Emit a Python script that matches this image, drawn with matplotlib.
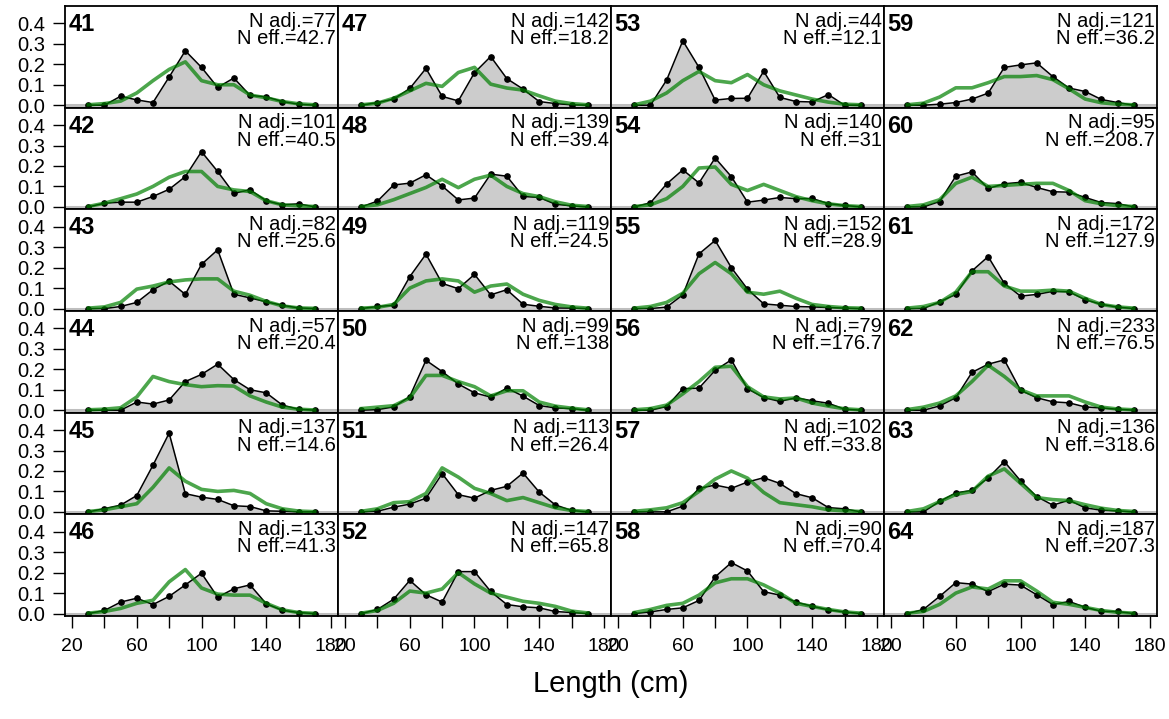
import numpy as np
import matplotlib
matplotlib.use("Agg")
import matplotlib.pyplot as plt

plt.rcParams["font.family"] = ["Liberation Sans", "DejaVu Sans"]

# length bins (cm)
lengths = [30, 40, 50, 60, 70, 80, 90, 100, 110, 120, 130, 140, 150, 160, 170]

# panels, ordered column by column
panel_ids = [41, 42, 43, 44, 45, 46, 47, 48, 49, 50, 51, 52,
             53, 54, 55, 56, 57, 58, 59, 60, 61, 62, 63, 64]
n_adj = [77, 101, 82, 57, 137, 133, 142, 139, 119, 99, 113, 147,
         44, 140, 152, 79, 102, 90, 121, 95, 172, 233, 136, 187]
n_eff = ["42.7", "40.5", "25.6", "20.4", "14.6", "41.3", "18.2", "39.4", "24.5", "138", "26.4", "65.8",
         "12.1", "31", "28.9", "176.7", "33.8", "70.4", "36.2", "208.7", "127.9", "76.5", "318.6", "207.3"]

observed = [
    [0, 0, 0.044, 0.026, 0.013, 0.138, 0.266, 0.185, 0.087, 0.133, 0.048, 0.041, 0.018, 0.005, 0],   # 41
    [0, 0.018, 0.023, 0.023, 0.051, 0.086, 0.148, 0.27, 0.173, 0.066, 0.084, 0.03, 0.01, 0.015, 0],  # 42
    [0, 0, 0.01, 0.03, 0.092, 0.134, 0.069, 0.216, 0.287, 0.07, 0.052, 0.033, 0.016, 0.003, 0],      # 43
    [0, 0, 0, 0.04, 0.03, 0.05, 0.14, 0.175, 0.225, 0.15, 0.1, 0.085, 0.025, 0.005, 0],              # 44
    [0, 0.016, 0.033, 0.08, 0.228, 0.385, 0.089, 0.072, 0.061, 0.03, 0.026, 0.005, 0.003, 0, 0],     # 45
    [0, 0.015, 0.056, 0.075, 0.044, 0.084, 0.14, 0.197, 0.08, 0.121, 0.14, 0.048, 0.016, 0.005, 0],  # 46
    [0, 0.013, 0.03, 0.082, 0.18, 0.043, 0.021, 0.159, 0.238, 0.13, 0.079, 0.018, 0.008, 0.002, 0],  # 47
    [0, 0.028, 0.107, 0.116, 0.157, 0.102, 0.034, 0.043, 0.16, 0.15, 0.051, 0.046, 0.013, 0.005, 0], # 48
    [0, 0.01, 0.016, 0.156, 0.266, 0.123, 0.097, 0.167, 0.067, 0.092, 0.021, 0.011, 0.003, 0.002, 0],# 49
    [0, 0.003, 0.016, 0.067, 0.244, 0.189, 0.128, 0.085, 0.064, 0.108, 0.069, 0.023, 0.011, 0.008, 0],# 50
    [0, 0.003, 0.023, 0.038, 0.067, 0.187, 0.084, 0.067, 0.105, 0.125, 0.19, 0.097, 0.034, 0.007, 0],# 51
    [0, 0.02, 0.07, 0.162, 0.092, 0.056, 0.205, 0.205, 0.108, 0.044, 0.033, 0.028, 0.01, 0.005, 0],  # 52
    [0, 0, 0.123, 0.315, 0.185, 0.025, 0.033, 0.034, 0.166, 0.038, 0.018, 0.016, 0.052, 0, 0],       # 53
    [0, 0.02, 0.112, 0.181, 0.117, 0.239, 0.148, 0.023, 0.033, 0.046, 0.04, 0.041, 0.016, 0.007, 0], # 54
    [0, 0, 0.007, 0.067, 0.267, 0.333, 0.2, 0.095, 0.023, 0.016, 0.01, 0.008, 0.005, 0.002, 0],      # 55
    [0, 0, 0.018, 0.105, 0.108, 0.195, 0.246, 0.105, 0.062, 0.043, 0.061, 0.046, 0.034, 0.005, 0],   # 56
    [0, 0, 0, 0.028, 0.115, 0.131, 0.115, 0.146, 0.167, 0.139, 0.089, 0.069, 0.021, 0.015, 0],       # 57
    [0, 0.008, 0.02, 0.028, 0.064, 0.179, 0.249, 0.208, 0.107, 0.09, 0.056, 0.036, 0.018, 0.008, 0], # 58
    [0, 0, 0.005, 0.013, 0.03, 0.059, 0.185, 0.197, 0.207, 0.14, 0.084, 0.067, 0.028, 0.013, 0],     # 59
    [0, 0, 0.026, 0.15, 0.171, 0.09, 0.113, 0.12, 0.095, 0.074, 0.072, 0.046, 0.021, 0.016, 0],      # 60
    [0, 0, 0.033, 0.069, 0.184, 0.254, 0.123, 0.061, 0.069, 0.084, 0.082, 0.043, 0.021, 0.007, 0],   # 61
    [0, 0, 0.021, 0.061, 0.185, 0.225, 0.246, 0.098, 0.061, 0.041, 0.036, 0.016, 0.011, 0.005, 0],   # 62
    [0, 0, 0.051, 0.093, 0.105, 0.166, 0.246, 0.152, 0.075, 0.033, 0.057, 0.02, 0.008, 0.005, 0],    # 63
    [0, 0.02, 0.084, 0.151, 0.144, 0.107, 0.144, 0.139, 0.092, 0.044, 0.059, 0.031, 0.011, 0.01, 0], # 64
]

expected = [
    [0.002, 0.008, 0.02, 0.06, 0.12, 0.175, 0.212, 0.12, 0.1, 0.1, 0.05, 0.036, 0.018, 0.007, 0.002],   # 41
    [0.002, 0.018, 0.04, 0.063, 0.1, 0.145, 0.173, 0.173, 0.1, 0.083, 0.075, 0.03, 0.01, 0.005, 0.002],  # 42
    [0.002, 0.008, 0.03, 0.095, 0.11, 0.13, 0.14, 0.145, 0.145, 0.085, 0.065, 0.035, 0.013, 0.003, 0.001],# 43
    [0.002, 0.005, 0.012, 0.065, 0.165, 0.14, 0.125, 0.115, 0.12, 0.118, 0.07, 0.04, 0.015, 0.005, 0.001],# 44
    [0.002, 0.01, 0.025, 0.04, 0.12, 0.215, 0.15, 0.11, 0.1, 0.105, 0.09, 0.04, 0.015, 0.004, 0.001],    # 45
    [0.002, 0.01, 0.025, 0.05, 0.065, 0.155, 0.215, 0.125, 0.095, 0.09, 0.09, 0.05, 0.018, 0.005, 0.001],# 46
    [0.002, 0.01, 0.034, 0.07, 0.107, 0.092, 0.16, 0.185, 0.103, 0.084, 0.074, 0.046, 0.02, 0.008, 0.002],# 47
    [0.002, 0.01, 0.035, 0.065, 0.095, 0.135, 0.094, 0.135, 0.155, 0.1, 0.065, 0.05, 0.025, 0.008, 0.002],# 48
    [0.002, 0.006, 0.02, 0.1, 0.135, 0.145, 0.135, 0.08, 0.11, 0.12, 0.07, 0.04, 0.02, 0.008, 0.002],    # 49
    [0.008, 0.015, 0.022, 0.06, 0.17, 0.17, 0.14, 0.115, 0.07, 0.095, 0.095, 0.04, 0.02, 0.01, 0.002],   # 50
    [0.003, 0.015, 0.045, 0.05, 0.09, 0.215, 0.17, 0.115, 0.09, 0.055, 0.07, 0.045, 0.02, 0.007, 0.002], # 51
    [0.002, 0.015, 0.05, 0.11, 0.1, 0.12, 0.2, 0.145, 0.1, 0.08, 0.06, 0.05, 0.035, 0.012, 0.003],       # 52
    [0.002, 0.02, 0.06, 0.12, 0.165, 0.12, 0.11, 0.15, 0.1, 0.07, 0.05, 0.03, 0.015, 0.005, 0.002],      # 53
    [0.002, 0.01, 0.04, 0.1, 0.19, 0.195, 0.11, 0.08, 0.11, 0.08, 0.05, 0.03, 0.015, 0.006, 0.002],      # 54
    [0.002, 0.01, 0.03, 0.075, 0.17, 0.225, 0.17, 0.08, 0.07, 0.085, 0.05, 0.02, 0.01, 0.004, 0.002],    # 55
    [0.002, 0.008, 0.025, 0.08, 0.14, 0.21, 0.215, 0.115, 0.065, 0.055, 0.06, 0.035, 0.02, 0.007, 0.002],# 56
    [0.003, 0.01, 0.02, 0.045, 0.1, 0.16, 0.2, 0.165, 0.095, 0.045, 0.035, 0.025, 0.01, 0.005, 0.002],   # 57
    [0.005, 0.02, 0.04, 0.05, 0.09, 0.15, 0.17, 0.17, 0.14, 0.1, 0.05, 0.035, 0.02, 0.008, 0.002],       # 58
    [0.002, 0.01, 0.04, 0.085, 0.085, 0.11, 0.14, 0.14, 0.145, 0.125, 0.08, 0.03, 0.012, 0.005, 0.002],  # 59
    [0.002, 0.01, 0.035, 0.115, 0.145, 0.1, 0.105, 0.11, 0.115, 0.115, 0.08, 0.03, 0.015, 0.006, 0.002], # 60
    [0.002, 0.01, 0.03, 0.08, 0.18, 0.18, 0.11, 0.085, 0.085, 0.09, 0.085, 0.05, 0.02, 0.008, 0.002],    # 61
    [0.003, 0.015, 0.035, 0.07, 0.14, 0.22, 0.165, 0.1, 0.07, 0.07, 0.07, 0.04, 0.015, 0.006, 0.002],    # 62
    [0.002, 0.015, 0.05, 0.085, 0.1, 0.175, 0.21, 0.14, 0.07, 0.06, 0.055, 0.035, 0.018, 0.007, 0.002],  # 63
    [0.002, 0.01, 0.045, 0.1, 0.13, 0.12, 0.16, 0.16, 0.11, 0.055, 0.045, 0.03, 0.015, 0.006, 0.002],    # 64
]

x_ticks = [20, 40, 60, 80, 100, 120, 140, 160, 180]
x_ticklabels = ["20", "", "60", "", "100", "", "140", "", "180"]
y_ticks = [0.0, 0.1, 0.2, 0.3, 0.4]

GREEN = (0.0, 0.5, 0.0, 0.7)
FILL = "#CCCCCC"

W, H = 1169, 719
fig = plt.figure(figsize=(W / 100, H / 100), dpi=100)

left_px, right_px, top_px, bot_px = 65, 1157, 6, 616
ncol, nrow = 4, 6
pw = (right_px - left_px) / ncol
ph = (bot_px - top_px) / nrow

for i, pid in enumerate(panel_ids):
    col, row = divmod(i, nrow)
    x0 = left_px + col * pw
    y0 = top_px + row * ph
    ax = fig.add_axes([x0 / W, 1 - (y0 + ph) / H, pw / W, ph / H])

    obs = np.array(observed[i])
    exp = np.array(expected[i])

    ax.axhline(0, color="#BEBEBE", lw=2.2, zorder=1)
    ax.fill_between(lengths, 0, obs, color=FILL, lw=0, zorder=2)
    ax.plot(lengths, obs, color="black", lw=1.1, marker="o", ms=3.8, zorder=3)
    ax.plot(lengths, exp, color=GREEN, lw=2.6, zorder=4, solid_joinstyle="round")

    ax.set_xlim(15.6, 184.4)
    ax.set_ylim(-0.012, 0.485)

    ax.text(0.012, 0.93, str(pid), transform=ax.transAxes, ha="left", va="top",
            fontsize=17, fontweight="bold")
    ax.text(0.993, 0.945, f"N adj.={n_adj[i]}\nN eff.={n_eff[i]}", transform=ax.transAxes,
            ha="right", va="top", fontsize=14.5, linespacing=0.9)

    for s in ax.spines.values():
        s.set_linewidth(1.3)

    if col == 0:
        ax.set_yticks(y_ticks)
        ax.set_yticklabels([f"{v:.1f}" for v in y_ticks])
        ax.tick_params(axis="y", length=8.5, width=1, labelsize=14.5, pad=6)
    else:
        ax.set_yticks([])
    if row == nrow - 1:
        ax.set_xticks(x_ticks)
        ax.set_xticklabels(x_ticklabels)
        ax.tick_params(axis="x", length=8.5, width=1, labelsize=14, pad=7)
    else:
        ax.set_xticks([])

fig.text((left_px + right_px) / 2 / W, 1 - 684 / H, "Length (cm)", ha="center", va="center",
         fontsize=21)

fig.savefig("out.png", dpi=100)
